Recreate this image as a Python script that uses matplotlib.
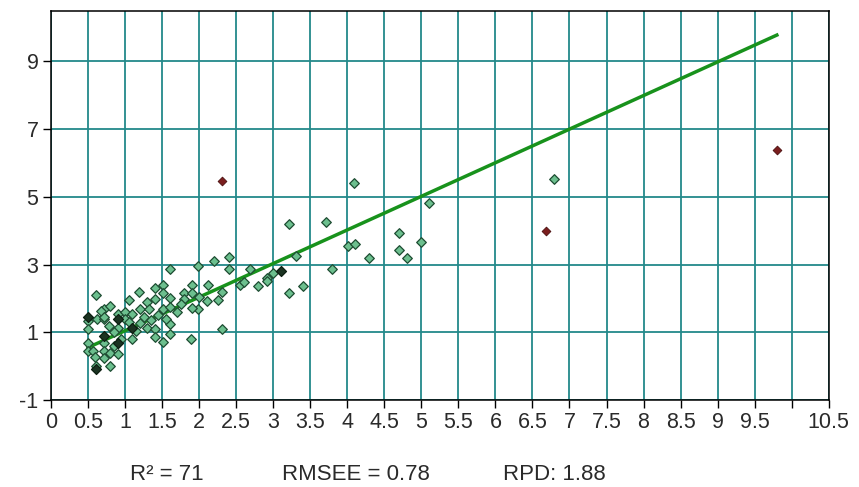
import matplotlib
matplotlib.use("Agg")
import matplotlib.pyplot as plt
import numpy as np

plt.rcParams['font.family'] = ['Liberation Sans', 'DejaVu Sans']
plt.rcParams['axes.unicode_minus'] = False

# calibration points (measured vs predicted)
x_pts = [6.79, 4.09, 5.10, 3.21, 3.71, 4.70, 5.00, 4.01, 4.11, 4.70, 4.80, 4.29,
         3.31, 3.80, 3.21, 3.40,
         1.61, 1.99, 2.20, 2.40, 2.40, 2.69, 2.79, 2.91, 2.91, 3.00, 2.31, 1.89,
         0.61, 1.19, 1.41, 1.51, 1.51, 1.90, 2.12, 1.80, 1.80, 1.61, 1.30, 1.41,
         2.10, 2.31, 1.99, 1.90, 1.51, 1.20, 1.32, 0.71, 0.80, 0.68, 0.62, 0.71,
         0.90, 1.00, 1.09, 1.00, 0.50, 0.50, 0.91, 1.20, 1.29, 1.41, 1.61, 1.61,
         1.41, 1.51, 1.09, 0.50, 0.71, 0.50, 0.57, 0.71, 0.80, 0.90, 0.71, 0.59,
         0.61, 0.80, 0.71,
         1.05, 1.25, 1.45, 1.55, 1.70, 1.75, 1.15, 1.35, 0.85, 0.95, 0.78, 2.25,
         2.00, 1.60, 2.55, 2.60, 1.90, 1.05, 0.85]
y_pts = [5.52, 5.42, 4.83, 4.21, 4.26, 3.93, 3.68, 3.56, 3.61, 3.42, 3.20, 3.20,
         3.24, 2.88, 2.17, 2.36,
         2.87, 2.97, 3.10, 3.21, 2.87, 2.87, 2.36, 2.61, 2.51, 2.76, 1.09, 0.79,
         2.09, 2.20, 2.31, 2.41, 2.17, 2.41, 2.41, 2.15, 1.99, 2.02, 1.89, 1.97,
         1.92, 2.19, 1.68, 1.73, 1.68, 1.68, 1.70, 1.68, 1.77, 1.62, 1.38, 1.38,
         1.53, 1.60, 1.53, 1.38, 1.33, 1.10, 1.14, 1.26, 1.14, 1.10, 1.24, 0.94,
         0.85, 0.72, 0.79, 0.69, 0.69, 0.45, 0.45, 0.45, 0.40, 0.35, 0.23, 0.26,
         0.01, -0.01, 1.44,
         1.30, 1.45, 1.50, 1.40, 1.60, 1.85, 1.05, 1.35, 1.00, 0.80, 1.20, 1.95,
         2.05, 1.75, 2.40, 2.50, 2.15, 1.95, 0.60]

x_dark = [0.50, 0.90, 1.09, 0.71, 0.90, 0.61, 3.10]
y_dark = [1.46, 1.38, 1.14, 0.89, 0.69, -0.09, 2.80]

x_out = [2.31, 6.68, 9.80]
y_out = [5.47, 3.99, 6.38]

fit_x = [0.5, 9.8]
fit_y = [0.55, 9.78]

x_ticks = [0, 0.5, 1, 1.5, 2, 2.5, 3, 3.5, 4, 4.5, 5, 5.5, 6, 6.5, 7, 7.5, 8,
           8.5, 9, 9.5, 10, 10.5]
x_labels = ["0", "0.5", "1", "1.5", "2", "2.5", "3", "3.5", "4", "4.5", "5",
            "5.5", "6", "6.5", "7", "7.5", "8", "8.5", "9", "9.5", "", "10.5"]
y_ticks = [-1, 1, 3, 5, 7, 9]

stats = ["R\u00b2 = 71", "RMSEE = 0.78", "RPD: 1.88"]

fig = plt.figure(figsize=(8.59, 4.87), dpi=100)
ax = fig.add_axes([51 / 859, 87 / 487, (828.7 - 51) / 859, (400 - 10.7) / 487])

ax.set_xlim(0, 10.5)
ax.set_ylim(-1, 10.5)
ax.set_xticks(x_ticks)
ax.set_xticklabels(x_labels)
ax.set_yticks(y_ticks)
ax.grid(True, color='#23898a', linewidth=1.3, zorder=0)
ax.set_axisbelow(True)
for s in ax.spines.values():
    s.set_color('black')
    s.set_linewidth(1.1)
ax.tick_params(axis='both', direction='out', length=6, width=1,
               colors='black', labelcolor='#2a2a2a', labelsize=15.5, pad=3)

ax.plot(fit_x, fit_y, color='#18921c', linewidth=2.5, zorder=3)
ax.scatter(x_pts, y_pts, marker='D', s=24, facecolor='#6cbf8e',
           edgecolor='#1e4d32', linewidth=0.9, zorder=4)
ax.scatter(x_dark, y_dark, marker='D', s=26, facecolor='#1b3322',
           edgecolor='#0d1f12', linewidth=0.9, zorder=4)
ax.scatter(x_out, y_out, marker='D', s=20, facecolor='#7a1e1e',
           edgecolor='#4a1010', linewidth=0.6, zorder=4)

# summary statistics under the chart
for txt, xp in zip(stats, [130, 282, 503]):
    fig.text(xp / 859, 1 - 474 / 487, txt, ha='left', va='center',
             fontsize=16, color='#2a2a2a')

fig.savefig("out.png", dpi=100)
